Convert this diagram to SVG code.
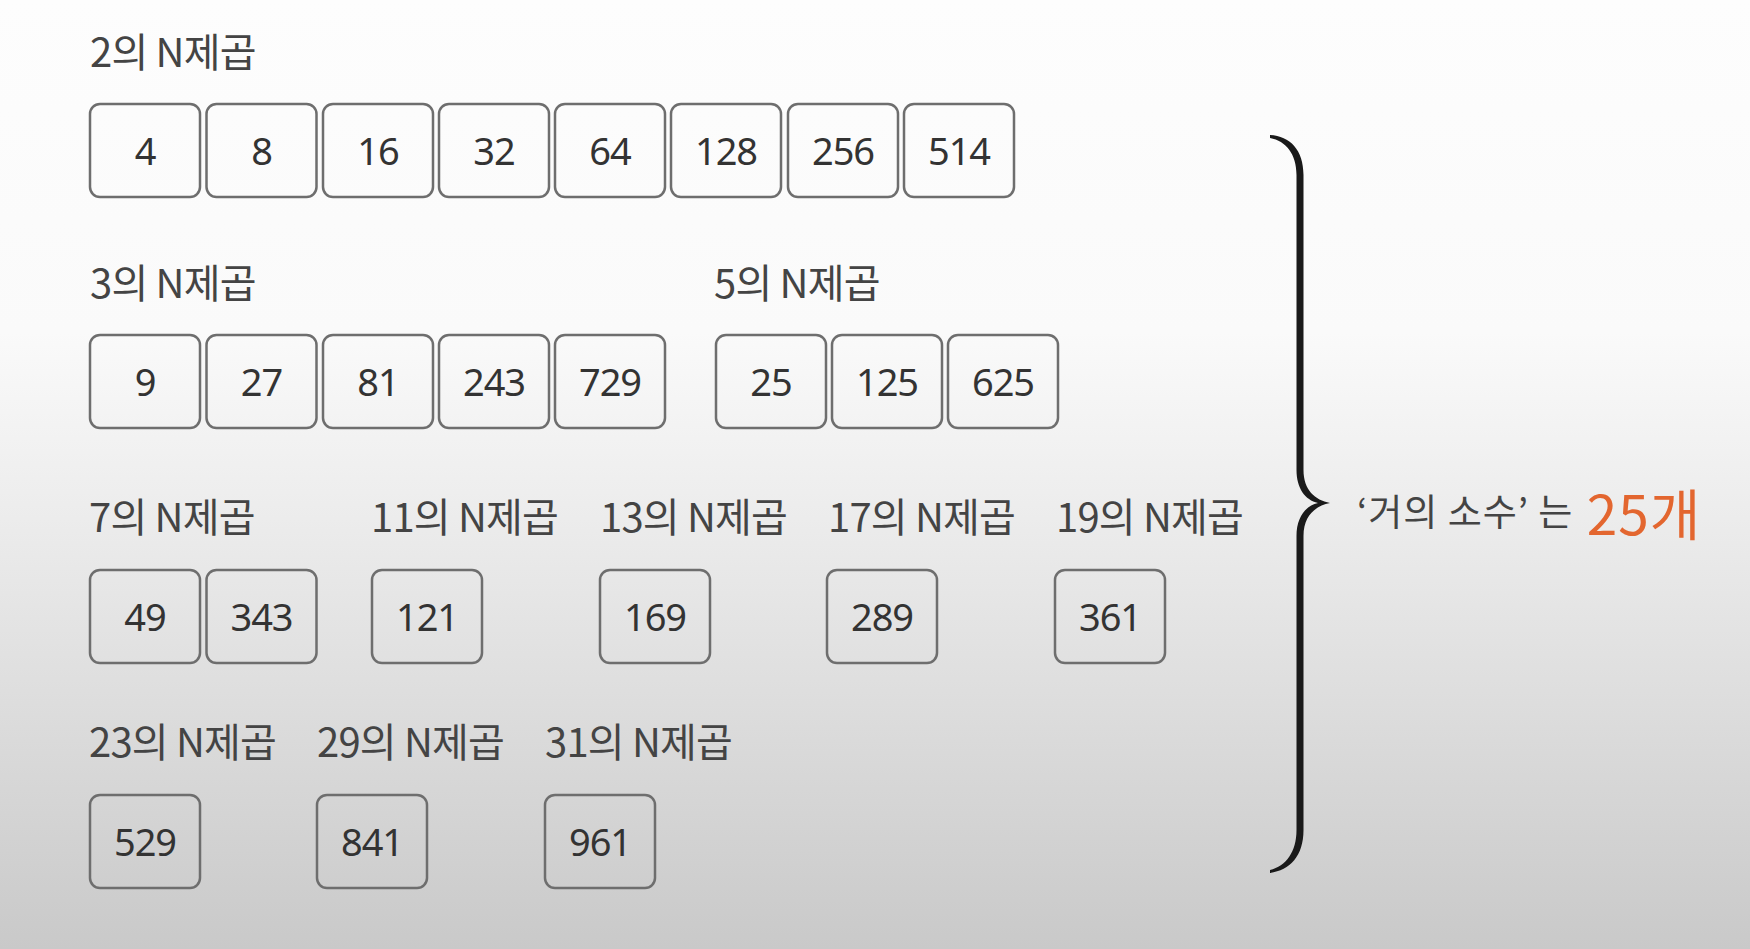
<svg xmlns="http://www.w3.org/2000/svg" width="1750" height="949" viewBox="0 0 1750 949">
<defs>
<linearGradient id="bg" x1="0" y1="0" x2="0" y2="1">
<stop offset="0" stop-color="#fdfdfd"/>
<stop offset="0.35" stop-color="#fafafa"/>
<stop offset="0.56" stop-color="#ebebeb"/>
<stop offset="1" stop-color="#c9c9c9"/>
</linearGradient>
<style>
.lbl{font-family:"Noto Sans CJK KR","Noto Sans",sans-serif;font-size:40px;fill:#444;letter-spacing:-0.8px}
.box rect{fill:none;stroke:#6e6e6e;stroke-width:2.5}
.box text{font-family:"Noto Sans","Noto Sans CJK KR",sans-serif;font-size:38px;fill:#333;text-anchor:middle;letter-spacing:-1px}
.note{font-family:"Noto Sans CJK KR",sans-serif;font-size:37px;fill:#444;letter-spacing:1px}
.big{font-family:"Noto Sans CJK KR",sans-serif;font-size:55px;fill:#e3662f;letter-spacing:1px}
</style>
</defs>
<rect width="1750" height="949" fill="url(#bg)"/>

<g id="labels">
<text class="lbl" x="90" y="67">2의 N제곱</text>
<text class="lbl" x="90" y="298">3의 N제곱</text>
<text class="lbl" x="714" y="298">5의 N제곱</text>
<text class="lbl" x="89" y="532">7의 N제곱</text>
<text class="lbl" x="371" y="532">11의 N제곱</text>
<text class="lbl" x="600" y="532">13의 N제곱</text>
<text class="lbl" x="828" y="532">17의 N제곱</text>
<text class="lbl" x="1056" y="532">19의 N제곱</text>
<text class="lbl" x="89" y="757">23의 N제곱</text>
<text class="lbl" x="317" y="757">29의 N제곱</text>
<text class="lbl" x="545" y="757">31의 N제곱</text>
</g>

<g id="n4" class="box"><rect x="90" y="104" width="110" height="93" rx="10"/><text x="145" y="165">4</text></g>
<g id="n8" class="box"><rect x="206.5" y="104" width="110" height="93" rx="10"/><text x="261.5" y="165">8</text></g>
<g id="n16" class="box"><rect x="323" y="104" width="110" height="93" rx="10"/><text x="378" y="165">16</text></g>
<g id="n32" class="box"><rect x="439" y="104" width="110" height="93" rx="10"/><text x="494" y="165">32</text></g>
<g id="n64" class="box"><rect x="555" y="104" width="110" height="93" rx="10"/><text x="610" y="165">64</text></g>
<g id="n128" class="box"><rect x="671" y="104" width="110" height="93" rx="10"/><text x="726" y="165">128</text></g>
<g id="n256" class="box"><rect x="788" y="104" width="110" height="93" rx="10"/><text x="843" y="165">256</text></g>
<g id="n514" class="box"><rect x="904" y="104" width="110" height="93" rx="10"/><text x="959" y="165">514</text></g>

<g id="n9" class="box"><rect x="90" y="335" width="110" height="93" rx="10"/><text x="145" y="396">9</text></g>
<g id="n27" class="box"><rect x="206.5" y="335" width="110" height="93" rx="10"/><text x="261.5" y="396">27</text></g>
<g id="n81" class="box"><rect x="323" y="335" width="110" height="93" rx="10"/><text x="378" y="396">81</text></g>
<g id="n243" class="box"><rect x="439" y="335" width="110" height="93" rx="10"/><text x="494" y="396">243</text></g>
<g id="n729" class="box"><rect x="555" y="335" width="110" height="93" rx="10"/><text x="610" y="396">729</text></g>
<g id="n25" class="box"><rect x="716" y="335" width="110" height="93" rx="10"/><text x="771" y="396">25</text></g>
<g id="n125" class="box"><rect x="832" y="335" width="110" height="93" rx="10"/><text x="887" y="396">125</text></g>
<g id="n625" class="box"><rect x="948" y="335" width="110" height="93" rx="10"/><text x="1003" y="396">625</text></g>

<g id="n49" class="box"><rect x="90" y="570" width="110" height="93" rx="10"/><text x="145" y="631">49</text></g>
<g id="n343" class="box"><rect x="206.5" y="570" width="110" height="93" rx="10"/><text x="261.5" y="631">343</text></g>
<g id="n121" class="box"><rect x="372" y="570" width="110" height="93" rx="10"/><text x="427" y="631">121</text></g>
<g id="n169" class="box"><rect x="600" y="570" width="110" height="93" rx="10"/><text x="655" y="631">169</text></g>
<g id="n289" class="box"><rect x="827" y="570" width="110" height="93" rx="10"/><text x="882" y="631">289</text></g>
<g id="n361" class="box"><rect x="1055" y="570" width="110" height="93" rx="10"/><text x="1110" y="631">361</text></g>

<g id="n529" class="box"><rect x="90" y="795" width="110" height="93" rx="10"/><text x="145" y="856">529</text></g>
<g id="n841" class="box"><rect x="317" y="795" width="110" height="93" rx="10"/><text x="372" y="856">841</text></g>
<g id="n961" class="box"><rect x="545" y="795" width="110" height="93" rx="10"/><text x="600" y="856">961</text></g>

<g id="connectors">
<path d="M1270,135 C1290,136 1303.5,150 1303.5,175 L1303.5,470 C1303.5,490 1315,500 1330,503 C1315,506 1303.5,516 1303.5,536 L1303.5,830 C1303.5,856 1290,870 1270,873 L1270,870 C1286,866 1296.5,852 1296.5,830 L1296.5,536 C1296.5,518 1305,506 1318,503 C1305,500 1296.5,488 1296.5,470 L1296.5,175 C1296.5,154 1286,141 1270,138 Z" fill="#1a1a1a"/>
</g>

<g id="result">
<text class="note" x="1357" y="526">‘거의 소수’ 는 <tspan class="big" dx="4" y="535">25개</tspan></text>
</g>
</svg>
